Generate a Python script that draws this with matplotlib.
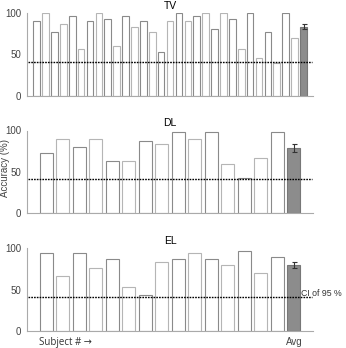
import numpy as np
import matplotlib.pyplot as plt

tv_vals = [90, 100, 77, 87, 96, 56, 90, 100, 93, 60, 96, 83, 90, 77, 53,
           90, 100, 90, 96, 100, 80, 100, 93, 56, 100, 46, 77, 40, 100, 70]
dl_vals = [73, 90, 80, 90, 63, 63, 87, 84, 98, 90, 98, 60, 43, 67, 98]
el_vals = [94, 67, 94, 77, 87, 54, 44, 84, 87, 94, 87, 80, 97, 70, 90]

tv_avg, tv_err = 83, 3
dl_avg, dl_err = 79, 4.5
el_avg, el_err = 80.5, 3.6
chance = 41

titles = ['TV', 'DL', 'EL']
panels = [(tv_vals, tv_avg, tv_err), (dl_vals, dl_avg, dl_err), (el_vals, el_avg, el_err)]
bottoms = [0.725, 0.387, 0.048]
height = 0.238

fig = plt.figure(figsize=(3.46, 3.48), dpi=100)
plt.rcParams['font.family'] = ['Liberation Sans', 'DejaVu Sans']

for k in range(3):
    vals, avg, err = panels[k]
    ax = fig.add_axes([0.078, bottoms[k], 0.827, height])
    n = len(vals)
    x = np.arange(n)
    w = 0.75 if n > 20 else 0.8
    edges = ['#8a8a8a' if i % 2 == 0 else '#b5b5b5' for i in range(n)]
    ax.bar(x, vals, width=w, color='white', edgecolor=edges, linewidth=0.8)
    ax.bar([n], [avg], width=w, color='#8c8c8c', edgecolor='#777777', linewidth=0.8,
           yerr=[err], error_kw=dict(ecolor='#333333', elinewidth=0.8, capsize=1.8, capthick=0.8))
    pad = 1.08 if n > 20 else 1.17
    ax.set_xlim(-pad, n + pad)
    ax.set_ylim(0, 100)
    ax.axhline(chance, xmin=0.005, xmax=0.995, color='black', linestyle=(0, (1.2, 0.8)), linewidth=1.0)
    ax.set_yticks([0, 50, 100])
    ax.set_xticks([])
    ax.tick_params(axis='y', length=0, labelsize=7, colors='#444444', pad=4)
    for s in ['top', 'right']:
        ax.spines[s].set_visible(False)
    for s in ['left', 'bottom']:
        ax.spines[s].set_color('#aaaaaa')
        ax.spines[s].set_linewidth(0.8)
    ax.set_title(titles[k], fontsize=7.5, pad=3)
    if k == 2:
        ax.text(n + 0.45, chance + 5, 'CI of 95 %', fontsize=6.3, color='#333333', va='center')
        ax.text(n, -7, 'Avg', fontsize=7, color='#444444', ha='center', va='top')
        ax.text(-0.45, -7, 'Subject # \u2192', fontsize=7, color='#333333', ha='left', va='top',
                family=['Open Sans', 'DejaVu Sans'])

fig.text(5 / 346, 1 - 168 / 348, 'Accuracy (%)', rotation=90, fontsize=7, color='#444444',
         ha='center', va='center')

fig.savefig('out.png', dpi=100)
